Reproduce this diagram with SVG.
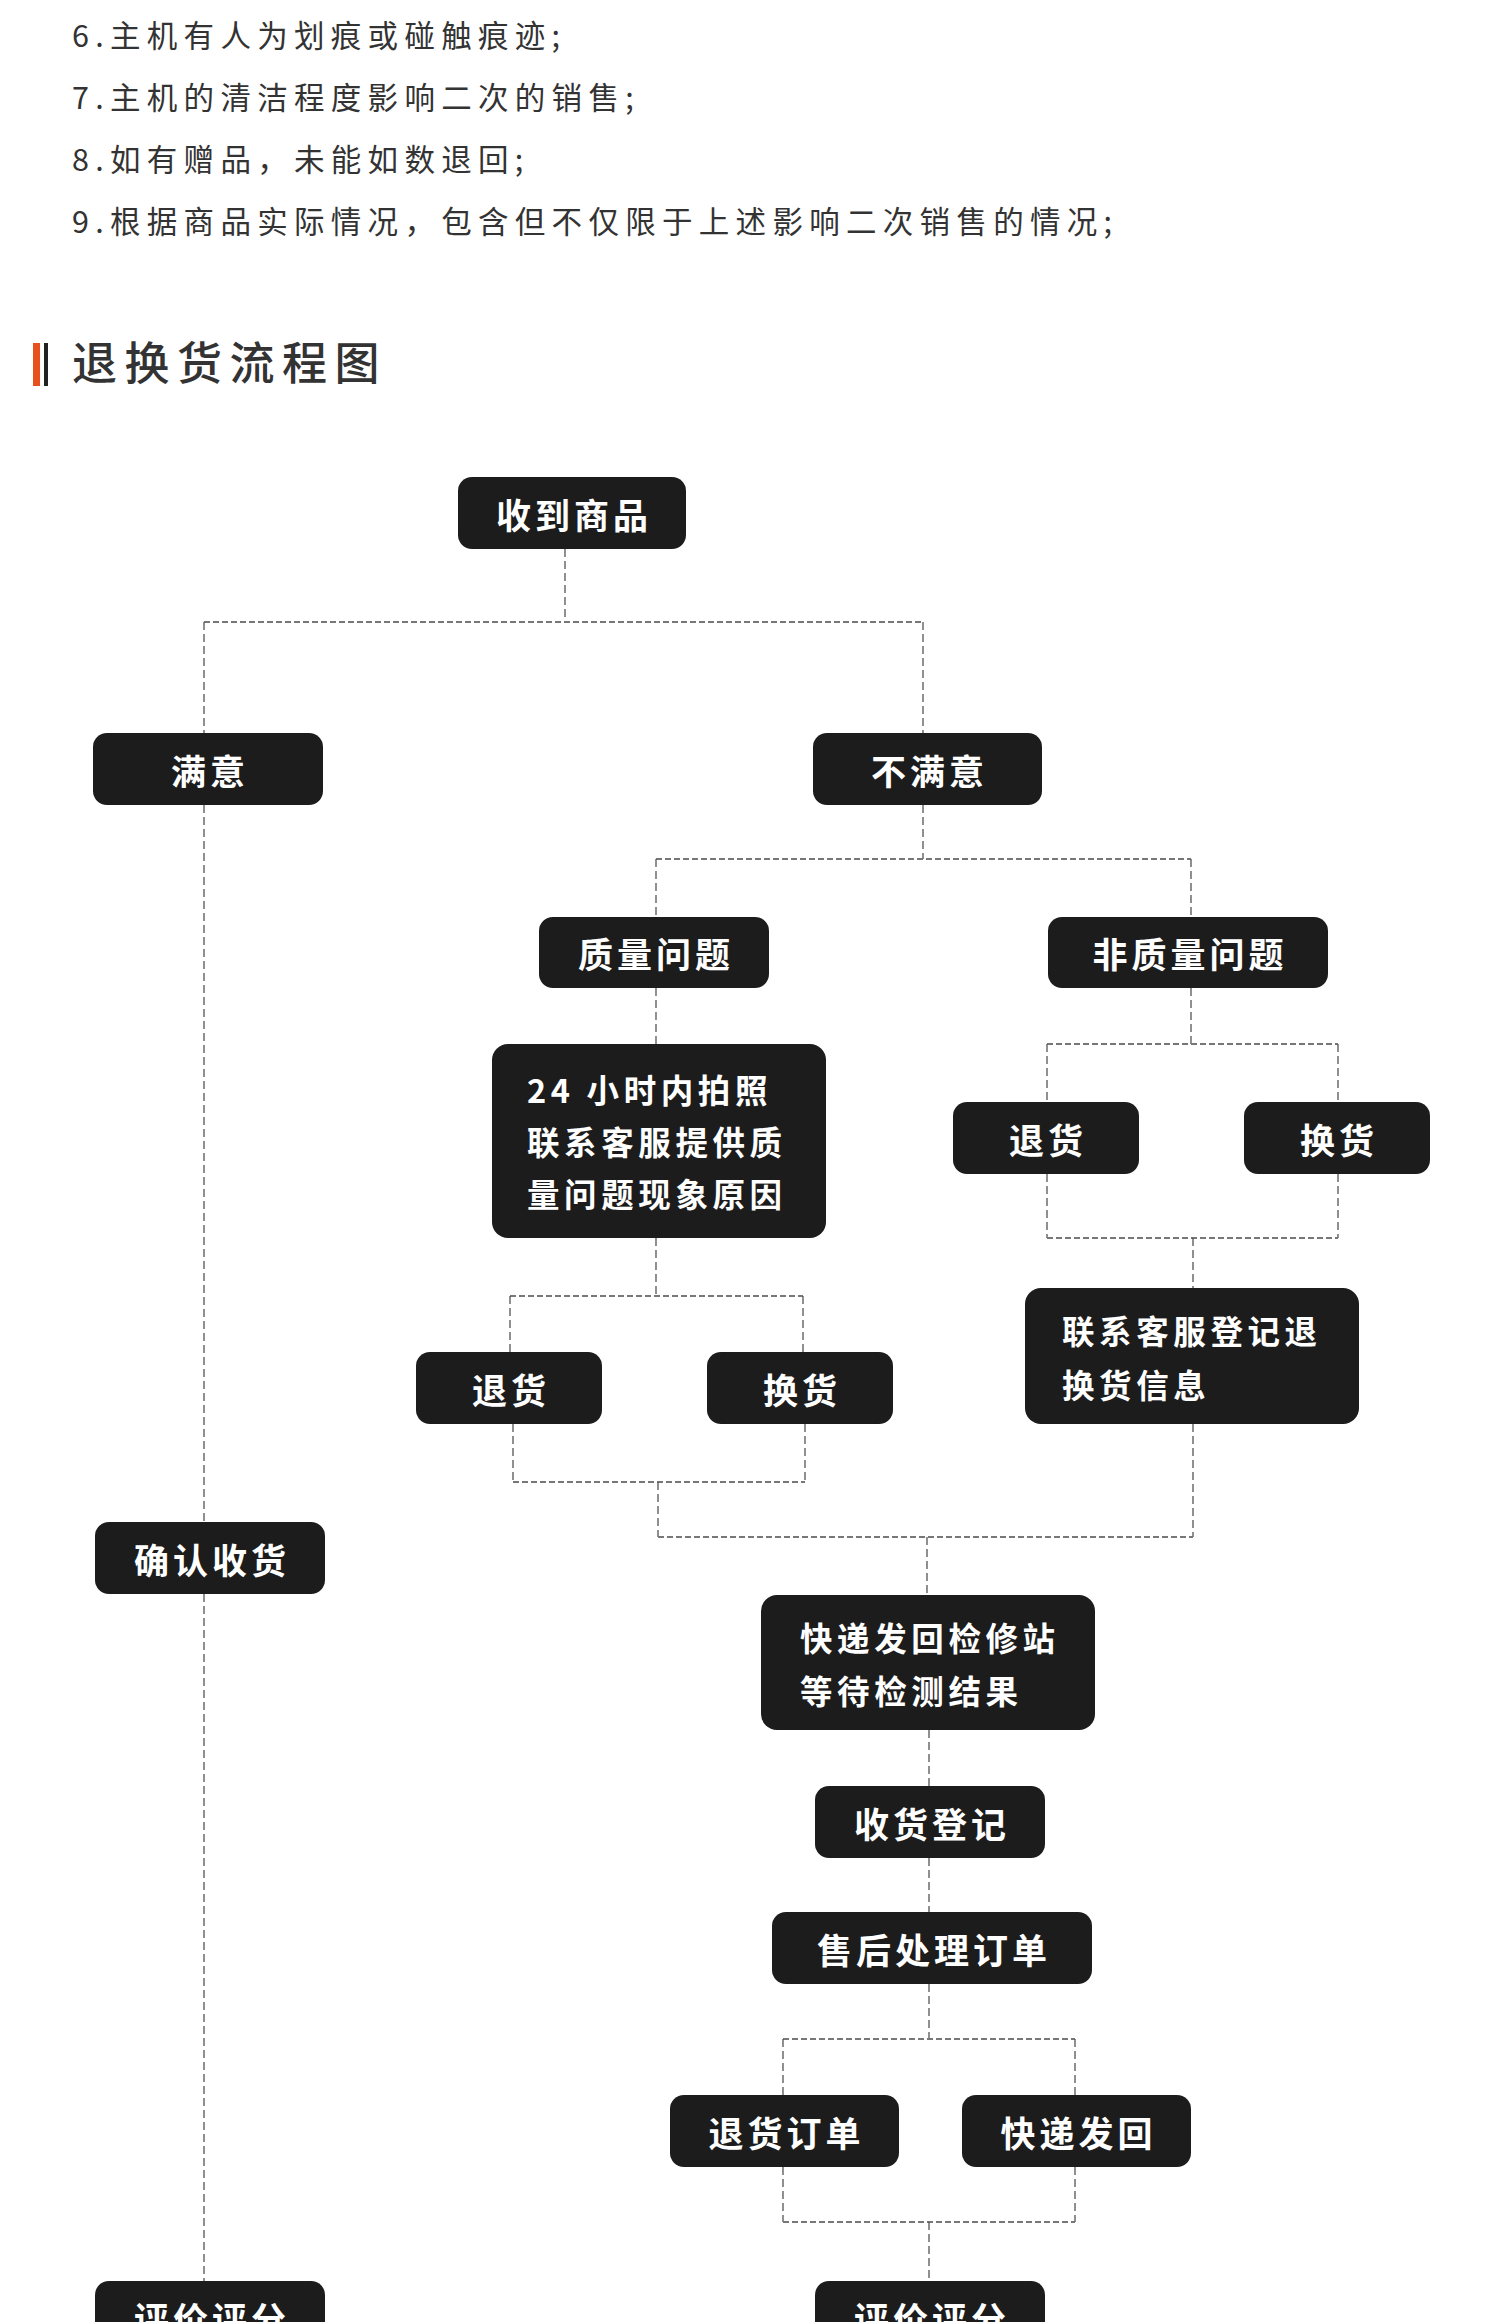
<svg xmlns="http://www.w3.org/2000/svg" width="1500" height="2322" viewBox="0 0 1500 2322">
<style>
.note{font-family:"Noto Sans CJK SC","Noto Sans",sans-serif;font-size:30.5px;fill:#333;letter-spacing:6.3px}
.title{font-family:"Noto Sans CJK SC","Noto Sans",sans-serif;font-size:45px;fill:#333;letter-spacing:7.5px;font-weight:500}
.box{fill:#1c1c1c}
.lbl{font-family:"Noto Sans CJK SC","Noto Sans",sans-serif;font-size:35px;fill:#fff;font-weight:700;letter-spacing:4px;text-anchor:middle;dominant-baseline:central}
.ml{font-family:"Noto Sans CJK SC","Noto Sans",sans-serif;font-size:32.5px;fill:#fff;font-weight:700;letter-spacing:4.6px;dominant-baseline:central}
.v{stroke:#555;stroke-width:1.3;stroke-dasharray:8 4;fill:none}
.h{stroke:#777;stroke-width:2;stroke-dasharray:6 3;fill:none}
</style>
<rect width="1500" height="2322" fill="#fff"/>
<g id="notes">
<text class="note" x="72" y="47">6.主机有人为划痕或碰触痕迹;</text>
<text class="note" x="72" y="109">7.主机的清洁程度影响二次的销售;</text>
<text class="note" x="72" y="171">8.如有赠品，未能如数退回;</text>
<text class="note" x="72" y="233">9.根据商品实际情况，包含但不仅限于上述影响二次销售的情况;</text>
</g>
<g id="title">
<rect x="33" y="343" width="7" height="43" fill="#e8501e"/>
<rect x="44" y="343" width="4" height="43" fill="#222"/>
<text class="title" x="72" y="380">退换货流程图</text>
</g>
<g id="connectors">
<path class="v" d="M565 549V622"/>
<path class="h" d="M204 622H923"/>
<path class="v" d="M204 622V733M923 622V733"/>
<path class="v" d="M204 805V1522M204 1594V2281"/>
<path class="v" d="M923 805V859"/>
<path class="h" d="M656 859H1191"/>
<path class="v" d="M656 859V917M1191 859V917"/>
<path class="v" d="M656 988V1044M1191 988V1044"/>
<path class="h" d="M1047 1044H1338"/>
<path class="v" d="M1047 1044V1102M1338 1044V1102"/>
<path class="v" d="M1047 1174V1238M1338 1174V1238"/>
<path class="h" d="M1047 1238H1338"/>
<path class="v" d="M1193 1238V1288"/>
<path class="v" d="M656 1238V1296"/>
<path class="h" d="M510 1296H803"/>
<path class="v" d="M510 1296V1352M803 1296V1352"/>
<path class="v" d="M513 1424V1482M805 1424V1482"/>
<path class="h" d="M513 1482H805"/>
<path class="v" d="M658 1482V1537"/>
<path class="v" d="M1193 1424V1537"/>
<path class="h" d="M658 1537H1193"/>
<path class="v" d="M927 1537V1595"/>
<path class="v" d="M929 1730V1786M929 1858V1912M929 1984V2039"/>
<path class="h" d="M783 2039H1075"/>
<path class="v" d="M783 2039V2095M1075 2039V2095"/>
<path class="v" d="M783 2167V2222M1075 2167V2222"/>
<path class="h" d="M783 2222H1075"/>
<path class="v" d="M929 2222V2281"/>
</g>
<g id="n1"><rect class="box" x="458" y="477" width="228" height="72" rx="14"/><text class="lbl" x="574" y="513">收到商品</text></g>
<g id="n2"><rect class="box" x="93" y="733" width="230" height="72" rx="14"/><text class="lbl" x="210" y="769">满意</text></g>
<g id="n3"><rect class="box" x="813" y="733" width="229" height="72" rx="14"/><text class="lbl" x="929.5" y="769">不满意</text></g>
<g id="n4"><rect class="box" x="539" y="917" width="230" height="71" rx="14"/><text class="lbl" x="656" y="952">质量问题</text></g>
<g id="n5"><rect class="box" x="1048" y="917" width="280" height="71" rx="14"/><text class="lbl" x="1190" y="952">非质量问题</text></g>
<g id="n6"><rect class="box" x="492" y="1044" width="334" height="194" rx="16"/>
<text class="ml" x="527" y="1088">24 小时内拍照</text>
<text class="ml" x="527" y="1140">联系客服提供质</text>
<text class="ml" x="527" y="1192">量问题现象原因</text></g>
<g id="n7"><rect class="box" x="416" y="1352" width="186" height="72" rx="14"/><text class="lbl" x="511" y="1388">退货</text></g>
<g id="n8"><rect class="box" x="707" y="1352" width="186" height="72" rx="14"/><text class="lbl" x="802" y="1388">换货</text></g>
<g id="n9"><rect class="box" x="953" y="1102" width="186" height="72" rx="14"/><text class="lbl" x="1048" y="1138">退货</text></g>
<g id="n10"><rect class="box" x="1244" y="1102" width="186" height="72" rx="14"/><text class="lbl" x="1339" y="1138">换货</text></g>
<g id="n11"><rect class="box" x="1025" y="1288" width="334" height="136" rx="16"/>
<text class="ml" x="1062" y="1329">联系客服登记退</text>
<text class="ml" x="1062" y="1383">换货信息</text></g>
<g id="n12"><rect class="box" x="95" y="1522" width="230" height="72" rx="14"/><text class="lbl" x="212" y="1558">确认收货</text></g>
<g id="n13"><rect class="box" x="761" y="1595" width="334" height="135" rx="16"/>
<text class="ml" x="800" y="1636">快递发回检修站</text>
<text class="ml" x="800" y="1689">等待检测结果</text></g>
<g id="n14"><rect class="box" x="815" y="1786" width="230" height="72" rx="14"/><text class="lbl" x="932" y="1822">收货登记</text></g>
<g id="n15"><rect class="box" x="772" y="1912" width="320" height="72" rx="14"/><text class="lbl" x="934" y="1948">售后处理订单</text></g>
<g id="n16"><rect class="box" x="670" y="2095" width="229" height="72" rx="14"/><text class="lbl" x="786.5" y="2131">退货订单</text></g>
<g id="n17"><rect class="box" x="962" y="2095" width="229" height="72" rx="14"/><text class="lbl" x="1078.5" y="2131">快递发回</text></g>
<g id="n18"><rect class="box" x="95" y="2281" width="230" height="72" rx="14"/><text class="lbl" x="212" y="2317">评价评分</text></g>
<g id="n19"><rect class="box" x="815" y="2281" width="230" height="72" rx="14"/><text class="lbl" x="932" y="2317">评价评分</text></g>
</svg>
